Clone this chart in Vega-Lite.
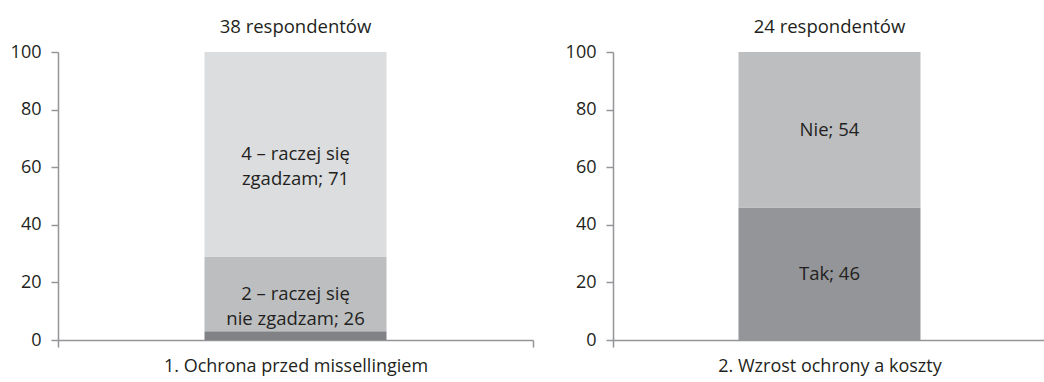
{
  "$schema": "https://vega.github.io/schema/vega-lite/v6.json",
  "padding": {"left": 10, "right": 0, "top": 17, "bottom": 5},
  "autosize": {"type": "pad"},
  "spacing": 31,
  "config": {
    "view": {"stroke": null},
    "font": "Open Sans",
    "axis": {"domainColor": "#939598", "tickColor": "#939598", "domainWidth": 1.5, "tickWidth": 1.5, "labelColor": "#231f20", "labelFont": "Open Sans", "grid": false, "title": null, "labelLimit": 0},
    "title": {"fontSize": 18.5, "fontWeight": "normal", "color": "#231f20", "offset": 7, "font": "Open Sans"}
  },
  "datasets": {
    "d": [
      {"panel": 1, "question": "1. Ochrona przed missellingiem", "category": "1", "order": 1, "value": 3, "label": ""},
      {"panel": 1, "question": "1. Ochrona przed missellingiem", "category": "2 – raczej się nie zgadzam", "order": 2, "value": 26, "label": "2 – raczej się\nnie zgadzam; 26"},
      {"panel": 1, "question": "1. Ochrona przed missellingiem", "category": "4 – raczej się zgadzam", "order": 3, "value": 71, "label": "4 – raczej się\nzgadzam; 71"},
      {"panel": 2, "question": "2. Wzrost ochrony a koszty", "category": "Tak", "order": 1, "value": 46, "label": "Tak; 46"},
      {"panel": 2, "question": "2. Wzrost ochrony a koszty", "category": "Nie", "order": 2, "value": 54, "label": "Nie; 54"}
    ]
  },
  "hconcat": [
    {
      "width": 475,
      "height": 288,
      "title": "38 respondentów",
      "data": {"name": "d"},
      "transform": [
        {"filter": "datum.panel == 1"},
        {"stack": "value", "groupby": ["question"], "sort": [{"field": "order"}], "as": ["v0", "v1"]},
        {"calculate": "(datum.v0 + datum.v1) / 2", "as": "mid"}
      ],
      "encoding": {
        "x": {"field": "question", "type": "nominal", "scale": {"paddingInner": 0, "paddingOuter": 0}, "axis": {"labelAngle": 0, "tickBand": "extent", "labelFontSize": 18, "labelPadding": 10, "tickSize": 7}}
      },
      "layer": [
        {
          "mark": {"type": "bar", "width": 182},
          "encoding": {
            "y": {"field": "v0", "type": "quantitative", "scale": {"domain": [0, 100], "nice": false}, "axis": {"values": [0, 20, 40, 60, 80, 100], "labelFontSize": 18, "tickSize": 7, "labelPadding": 10}},
            "y2": {"field": "v1"},
            "color": {"field": "category", "type": "nominal", "scale": {"domain": ["1", "2 – raczej się nie zgadzam", "4 – raczej się zgadzam"], "range": ["#808285", "#bcbec0", "#dcdddf"]}, "legend": null}
          }
        },
        {
          "mark": {"type": "text", "fontSize": 18.5, "lineBreak": "\n", "lineHeight": 25, "color": "#231f20"},
          "encoding": {
            "y": {"field": "mid", "type": "quantitative"},
            "text": {"field": "label"}
          }
        }
      ]
    },
    {
      "width": 433,
      "height": 288,
      "title": "24 respondentów",
      "data": {"name": "d"},
      "transform": [
        {"filter": "datum.panel == 2"},
        {"stack": "value", "groupby": ["question"], "sort": [{"field": "order"}], "as": ["v0", "v1"]},
        {"calculate": "(datum.v0 + datum.v1) / 2", "as": "mid"}
      ],
      "encoding": {
        "x": {"field": "question", "type": "nominal", "scale": {"paddingInner": 0, "paddingOuter": 0}, "axis": {"labelAngle": 0, "tickBand": "extent", "labelFontSize": 18, "labelPadding": 10, "tickSize": 7}}
      },
      "layer": [
        {
          "mark": {"type": "bar", "width": 182},
          "encoding": {
            "y": {"field": "v0", "type": "quantitative", "scale": {"domain": [0, 100], "nice": false}, "axis": {"values": [0, 20, 40, 60, 80, 100], "labelFontSize": 18, "tickSize": 7, "labelPadding": 10}},
            "y2": {"field": "v1"},
            "color": {"field": "category", "type": "nominal", "scale": {"domain": ["Tak", "Nie"], "range": ["#939598", "#bcbec0"]}, "legend": null}
          }
        },
        {
          "mark": {"type": "text", "fontSize": 18.5, "lineBreak": "\n", "lineHeight": 25, "color": "#231f20"},
          "encoding": {
            "y": {"field": "mid", "type": "quantitative"},
            "text": {"field": "label"}
          }
        }
      ]
    }
  ],
  "resolve": {"scale": {"color": "independent"}}
}
